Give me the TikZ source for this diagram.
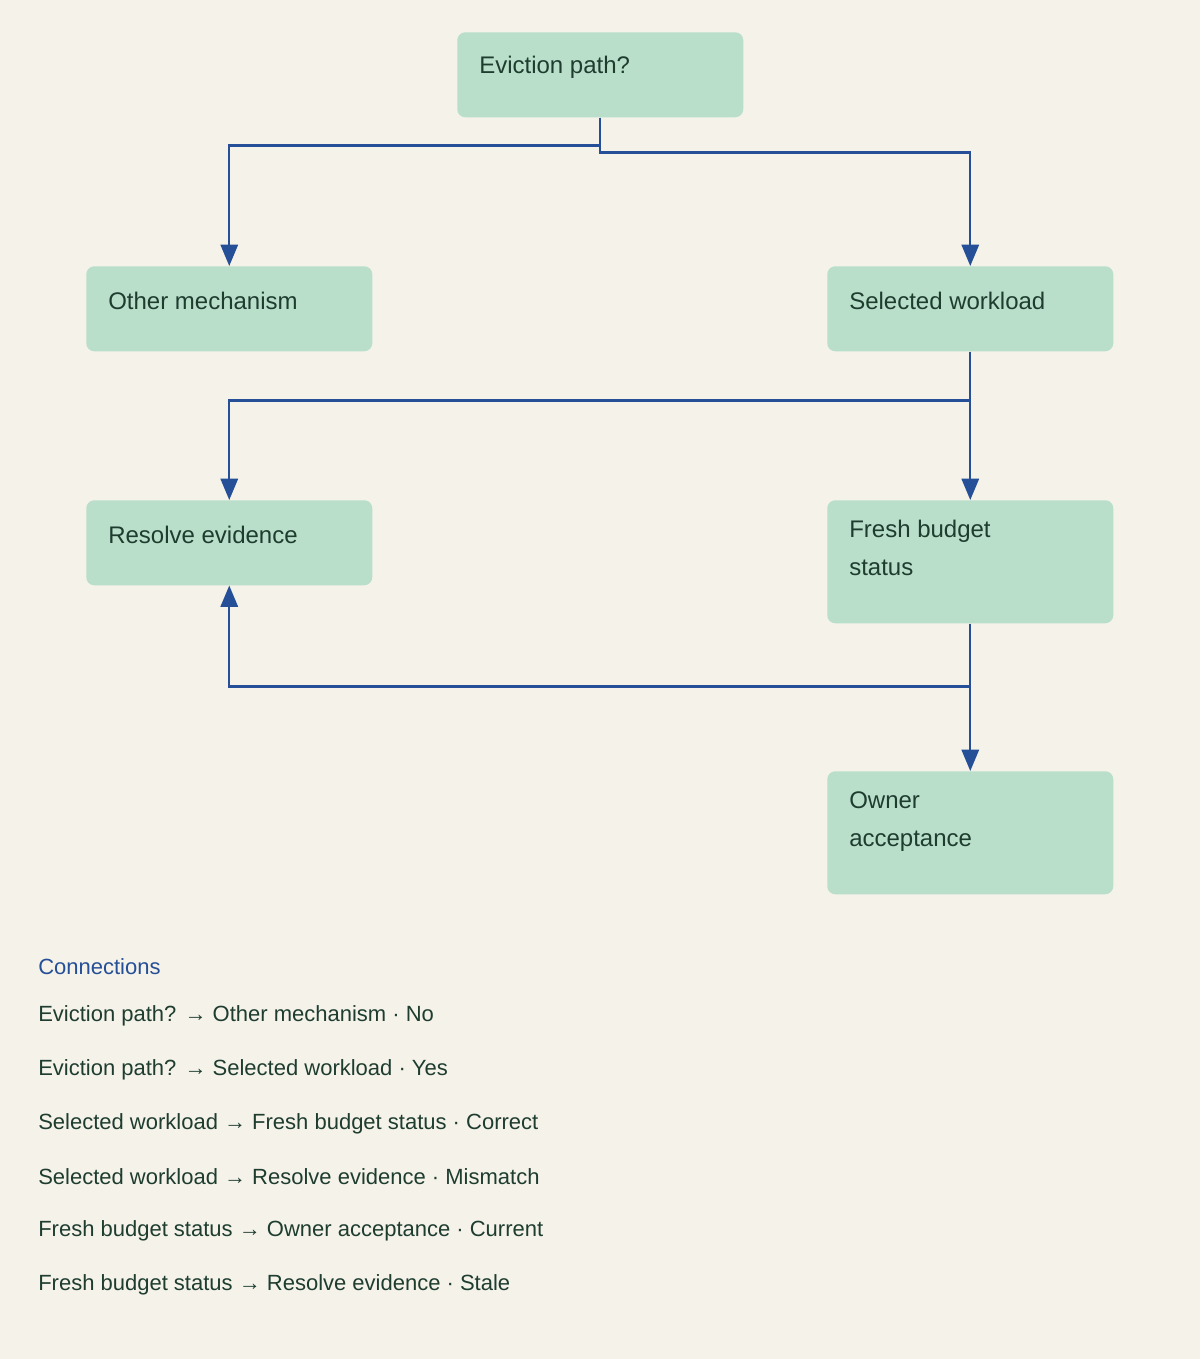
\documentclass[tikz,border=0pt]{standalone}
\usepackage{fontspec}
\setmainfont{Liberation Sans}
\usetikzlibrary{arrows.meta}
\definecolor{bg}{HTML}{F5F2EA}
\definecolor{nfill}{HTML}{B9DFCA}
\definecolor{ntext}{HTML}{1E3D2F}
\definecolor{edge}{HTML}{254F96}
\tikzset{
  box/.style={fill=nfill,rounded corners=6pt,inner sep=0pt,anchor=north west},
  lbl/.style={anchor=west,text=ntext,font=\fontsize{18}{28.5}\selectfont,align=left,inner sep=0pt},
  conn/.style={draw=edge,line width=1.6pt,-{Triangle[width=13pt,length=16pt]}},
  leg/.style={anchor=west,text=ntext,font=\fontsize{16.5}{20}\selectfont,inner sep=0pt}
}
\begin{document}
\begin{tikzpicture}[x=0.75pt,y=-0.75pt]
\fill[bg] (0,0) rectangle (1200,1359);
\useasboundingbox (0,0) rectangle (1200,1359);
\node[box,minimum width=214.5pt,minimum height=63.75pt] (ev) at (457,32) {};
\node[box,minimum width=214.5pt,minimum height=63.75pt] (om) at (86,266) {};
\node[box,minimum width=214.5pt,minimum height=63.75pt] (sw) at (827,266) {};
\node[box,minimum width=214.5pt,minimum height=63.75pt] (re) at (86,500) {};
\node[box,minimum width=214.5pt,minimum height=92.25pt] (fb) at (827,500) {};
\node[box,minimum width=214.5pt,minimum height=92.25pt] (oa) at (827,771) {};
\node[lbl] at (479,67) {Eviction path?};
\node[lbl] at (108,301) {Other mechanism};
\node[lbl] at (849,301) {Selected workload};
\node[lbl] at (108,535) {Resolve evidence};
\node[lbl,anchor=north west] at (849,520) {Fresh budget\\status};
\node[lbl,anchor=north west] at (849,791) {Owner\\acceptance};
\draw[conn] (ev.south) -- ++(0,28) -| (om.north);
\draw[conn] (ev.south) -- ++(0,35) -| (sw.north);
\draw[conn] (sw.south) -- ++(0,49) -| (re.north);
\draw[conn] (sw.south) -- (fb.north);
\draw[conn] (fb.south) -- ++(0,63) -| (re.south);
\draw[conn] (fb.south) -- (oa.north);
\node[leg,text=edge] at (38,967) {Connections};
\node[leg] at (38,1016) {Eviction path? → Other mechanism · No};
\node[leg] at (38,1070) {Eviction path? → Selected workload · Yes};
\node[leg] at (38,1124) {Selected workload → Fresh budget status · Correct};
\node[leg] at (38,1177) {Selected workload → Resolve evidence · Mismatch};
\node[leg] at (38,1231) {Fresh budget status → Owner acceptance · Current};
\node[leg] at (38,1285) {Fresh budget status → Resolve evidence · Stale};
\end{tikzpicture}
\end{document}
